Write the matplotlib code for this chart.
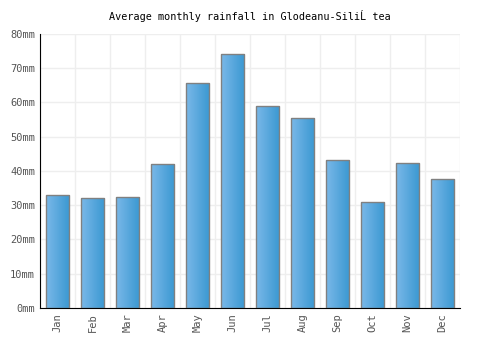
import numpy as np
import matplotlib
matplotlib.use("Agg")
import matplotlib.pyplot as plt
from matplotlib.colors import LinearSegmentedColormap

months = ["Jan", "Feb", "Mar", "Apr", "May", "Jun",
          "Jul", "Aug", "Sep", "Oct", "Nov", "Dec"]
rain = [33.0, 32.0, 32.3, 42.0, 65.7, 74.2, 59.0, 55.5, 43.1, 30.9, 42.3, 37.7]
yticks = [0, 10, 20, 30, 40, 50, 60, 70, 80]

plt.rcParams['font.family'] = ['DejaVu Sans Mono', 'DejaVu Sans']

fig = plt.figure(figsize=(5, 3.5), dpi=100)
ax = fig.add_axes([0.08, 0.12, 0.84, 0.783])

x = np.arange(len(months))
bars = ax.bar(x, rain, width=0.68, color='none', edgecolor='#808080',
              linewidth=1, zorder=3)

# horizontal gradient inside each bar
cmap = LinearSegmentedColormap.from_list('g', ['#7ab8e8', '#3a98d2'])
grad = np.linspace(0, 1, 64).reshape(1, -1)
for b in bars:
    x0, y0 = b.get_x(), b.get_y()
    w, h = b.get_width(), b.get_height()
    im = ax.imshow(grad, cmap=cmap, aspect='auto',
                   extent=[x0, x0 + w, y0, y0 + h], zorder=2)
    im.set_clip_path(b)

ax.set_xlim(-0.5, len(months) - 0.5)
ax.set_ylim(0, 80)
ax.set_xticks(x)
ax.set_xticklabels(months, rotation=90, fontsize=7.5, color='#555555')
ax.set_yticks(yticks)
ax.set_yticklabels([f"{v}mm" for v in yticks], fontsize=7.5, color='#555555')
ax.set_xticks(np.arange(-0.5, len(months)), minor=True)
ax.tick_params(length=0, which='both')
ax.grid(axis='y', color='#eeeeee', linewidth=1, zorder=0)
ax.grid(axis='x', which='minor', color='#eeeeee', linewidth=1, zorder=0)
for s in ['top', 'right']:
    ax.spines[s].set_visible(False)
ax.spines['left'].set_color('black')
ax.spines['bottom'].set_color('black')

ax.set_title("Average monthly rainfall in Glodeanu-SiliĹ tea", fontsize=7.3, pad=10)

fig.savefig("out.png", dpi=100)
